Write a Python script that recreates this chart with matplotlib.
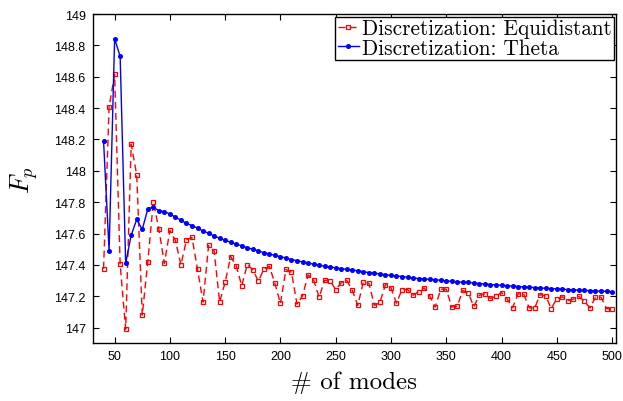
import matplotlib
matplotlib.use("Agg")
import matplotlib.pyplot as plt

plt.rcParams["mathtext.fontset"] = "cm"

# number of modes (sampled every 5)
modes = list(range(40, 501, 5))

fp_equidistant = [
    147.376, 148.407, 148.615, 147.404, 146.990, 148.170, 147.973, 147.080, 147.420, 147.800,
    147.630, 147.410, 147.620, 147.556, 147.400, 147.560, 147.575, 147.372, 147.163, 147.524,
    147.490, 147.163, 147.290, 147.453, 147.394, 147.267, 147.402, 147.370, 147.296, 147.372,
    147.391, 147.283, 147.154, 147.372, 147.353, 147.150, 147.203, 147.336, 147.305, 147.194,
    147.302, 147.298, 147.243, 147.286, 147.302, 147.237, 147.142, 147.292, 147.283, 147.142,
    147.161, 147.275, 147.254, 147.156, 147.243, 147.243, 147.207, 147.229, 147.254, 147.203,
    147.131, 147.245, 147.245, 147.131, 147.137, 147.237, 147.218, 147.135, 147.207, 147.216,
    147.186, 147.201, 147.224, 147.184, 147.127, 147.216, 147.216, 147.127, 147.125, 147.211,
    147.201, 147.122, 147.184, 147.197, 147.173, 147.182, 147.199, 147.169, 147.125, 147.194,
    147.194, 147.122, 147.116,
]

fp_theta = [
    148.190, 147.490, 148.843, 148.730, 147.410, 147.590, 147.690, 147.626, 147.757, 147.770,
    147.745, 147.740, 147.725, 147.705, 147.685, 147.665, 147.651, 147.635, 147.616, 147.603,
    147.584, 147.571, 147.556, 147.546, 147.531, 147.523, 147.508, 147.500, 147.489, 147.478,
    147.470, 147.461, 147.453, 147.444, 147.434, 147.427, 147.419, 147.413, 147.404, 147.398,
    147.391, 147.387, 147.381, 147.376, 147.372, 147.368, 147.362, 147.357, 147.351, 147.347,
    147.343, 147.338, 147.333, 147.330, 147.326, 147.321, 147.317, 147.313, 147.311, 147.308,
    147.305, 147.302, 147.298, 147.296, 147.292, 147.290, 147.288, 147.285, 147.281, 147.279,
    147.275, 147.273, 147.270, 147.267, 147.265, 147.262, 147.260, 147.258, 147.255, 147.253,
    147.251, 147.249, 147.247, 147.245, 147.243, 147.241, 147.239, 147.237, 147.236, 147.234,
    147.233, 147.231, 147.229,
]

fig = plt.figure(figsize=(6.23, 4.02), dpi=100)
ax = fig.add_axes([0.1485, 0.1435, 0.841, 0.819])

ax.plot(modes, fp_equidistant, color="#ff0000", ls=(0, (5, 3)), lw=1.0,
        marker="s", ms=3.0, mfc="none", mew=0.9,
        label="Discretization: Equidistant")
ax.plot(modes, fp_theta, color="#0000ff", ls="-", lw=1.0,
        marker="o", ms=2.6, label="Discretization: Theta")

ax.set_xlim(30, 504)
ax.set_ylim(146.9, 149)
ax.set_xticks(range(50, 501, 50))
ax.set_yticks([147, 147.2, 147.4, 147.6, 147.8, 148, 148.2, 148.4, 148.6, 148.8, 149])
ax.set_yticklabels(["147", "147.2", "147.4", "147.6", "147.8", "148",
                    "148.2", "148.4", "148.6", "148.8", "149"])
ax.tick_params(direction="in", length=4, width=0.8, top=True, right=True,
               labelsize=9, pad=5)
for lab in ax.get_xticklabels() + ax.get_yticklabels():
    lab.set_fontfamily("Liberation Sans")
for s in ax.spines.values():
    s.set_linewidth(1.0)

ax.set_xlabel("# of modes", fontfamily="cmr10", fontsize=18, labelpad=6)
ax.set_ylabel(r"$F_p$", fontsize=19, labelpad=10)

leg = ax.legend(loc="upper right", prop={"family": "cmr10", "size": 15.3},
                handlelength=1.0, handletextpad=0.15, borderpad=0.1,
                labelspacing=0.0, borderaxespad=0.12, fancybox=False,
                framealpha=1, edgecolor="black")
leg.get_frame().set_linewidth(1.0)

fig.savefig("out.png", dpi=100)
